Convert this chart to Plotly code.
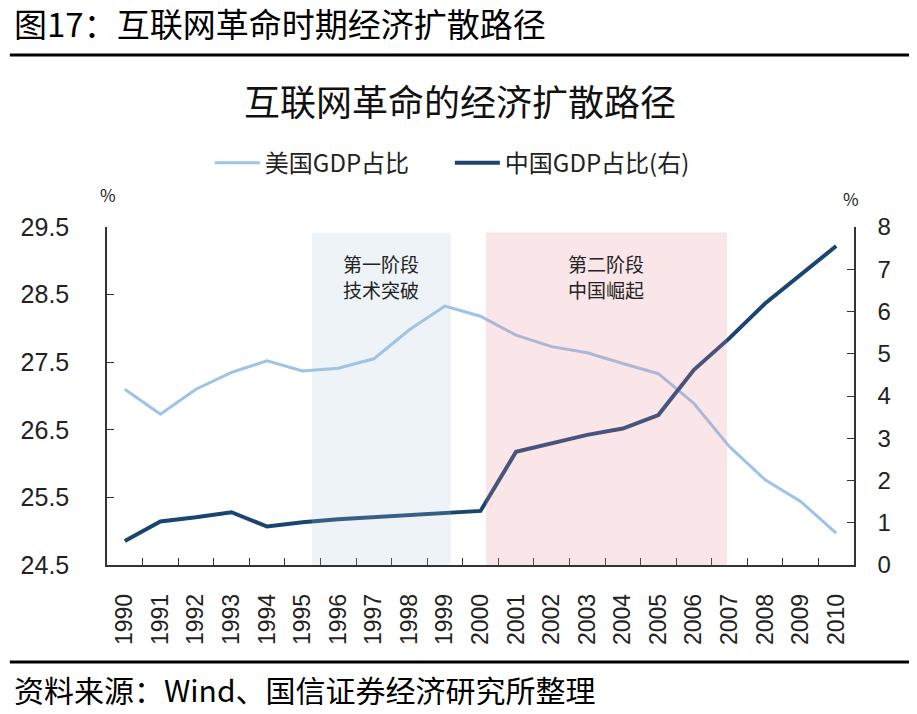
import plotly.graph_objects as go

years = [str(y) for y in range(1990, 2011)]
us_share = [27.10, 26.73, 27.10, 27.35, 27.52, 27.37, 27.41, 27.55, 27.98, 28.33,
            28.18, 27.90, 27.73, 27.64, 27.48, 27.33, 26.89, 26.25, 25.76, 25.44, 24.97]
cn_share = [0.57, 1.03, 1.13, 1.25, 0.91, 1.01, 1.08, 1.13, 1.18, 1.24,
            1.28, 2.68, 2.88, 3.08, 3.23, 3.55, 4.62, 5.37, 6.19, 6.86, 7.55]
left_ticks = [24.5, 25.5, 26.5, 27.5, 28.5, 29.5]
right_ticks = [0, 1, 2, 3, 4, 5, 6, 7, 8]
# stage spans in category index units, top in left-axis units
stage_line1 = ["第一阶段", "第二阶段"]
stage_line2 = ["技术突破", "中国崛起"]
stage_spans = [(5.26, 9.17), (10.15, 16.93)]
stage_top = 29.42

FONT = "Noto Sans CJK SC"
US_COLOR = "#9DC3E6"
CN_COLOR = "#1B4571"

fig = go.Figure()
fig.add_trace(go.Scatter(x=years, y=us_share, mode="lines", name="美国GDP占比",
                         line=dict(color=US_COLOR, width=3)))
fig.add_trace(go.Scatter(x=years, y=cn_share, mode="lines", name="中国GDP占比(右)",
                         line=dict(color=CN_COLOR, width=4), yaxis="y2"))

stage_fills = ["rgba(170,195,215,0.2)", "rgba(230,140,150,0.22)"]
for (x0, x1), t1, t2, fill in zip(stage_spans, stage_line1, stage_line2, stage_fills):
    fig.add_shape(type="rect", xref="x", yref="y", x0=x0, x1=x1, y0=left_ticks[0], y1=stage_top,
                  fillcolor=fill, line=dict(width=0), layer="above")
    for txt, ty in [(t1, 28.97), (t2, 28.58)]:
        fig.add_annotation(x=(x0 + x1) / 2, y=ty, xref="x", yref="y", text=txt, showarrow=False,
                           font=dict(family=FONT, size=19, color="#222"), align="center",
                           height=22)

# header / footer rules
for py in [1.509, -0.287]:
    fig.add_shape(type="line", xref="paper", yref="paper", x0=-0.130, x1=1.075, y0=py, y1=py,
                  line=dict(color="black", width=3))

fig.add_annotation(x=-0.127, y=1.604, xref="paper", yref="paper", xanchor="left", yanchor="middle",
                   text="图17：互联网革命时期经济扩散路径", showarrow=False, height=34,
                   font=dict(family=FONT, size=33, color="black"))
fig.add_annotation(x=0.4726, y=1.376, xref="paper", yref="paper", xanchor="center", yanchor="middle",
                   text="互联网革命的经济扩散路径", showarrow=False,
                   font=dict(family=FONT, size=36, color="#111"))
fig.add_annotation(x=-0.127, y=-0.367, xref="paper", yref="paper", xanchor="left", yanchor="middle",
                   text="资料来源：Wind、国信证券经济研究所整理", showarrow=False, height=32,
                   font=dict(family=FONT, size=30, color="black"))
fig.add_annotation(x=0.001, y=1.095, xref="paper", yref="paper", xanchor="center", yanchor="middle",
                   text="%", showarrow=False, font=dict(family=FONT, size=17, color="#222"))
fig.add_annotation(x=0.996, y=1.085, xref="paper", yref="paper", xanchor="center", yanchor="middle",
                   text="%", showarrow=False, font=dict(family=FONT, size=17, color="#222"))

fig.update_layout(
    width=901, height=698,
    margin=dict(l=99, r=55, t=219, b=141, autoexpand=False),
    paper_bgcolor="white", plot_bgcolor="white",
    font=dict(family=FONT, color="#222"),
    showlegend=True,
    legend=dict(orientation="h", x=0.459, y=1.189, xanchor="center", yanchor="middle",
                font=dict(family=FONT, size=24, color="#222"), itemwidth=45,
                entrywidth=180, entrywidthmode="pixels"),
    xaxis=dict(type="category", showline=True, linecolor="#333", linewidth=1.5,
               ticks="inside", tickson="boundaries", ticklen=7, tickcolor="#333",
               tickangle=-90, tickfont=dict(family="Liberation Sans", size=23, color="#222"),
               ticklabelstandoff=18, showgrid=False, zeroline=False, range=[-0.5, 20.5]),
    yaxis=dict(range=[24.5, 29.5], tickvals=left_ticks, ticktext=[f"{v:.1f}" for v in left_ticks],
               showline=True, linecolor="#333", linewidth=1.5, ticks="inside", ticklen=7,
               tickcolor="#333", tickfont=dict(family="Liberation Sans", size=25, color="#222"),
               ticklabelstandoff=31, showgrid=False, zeroline=False),
    yaxis2=dict(range=[0, 8], tickvals=right_ticks, overlaying="y", side="right",
                showline=True, linecolor="#333", linewidth=1.5, ticks="inside", ticklen=7,
                tickcolor="#333", tickfont=dict(family="Liberation Sans", size=24, color="#222"),
                ticklabelstandoff=17, showgrid=False, zeroline=False),
)

fig.write_html("out.html")
